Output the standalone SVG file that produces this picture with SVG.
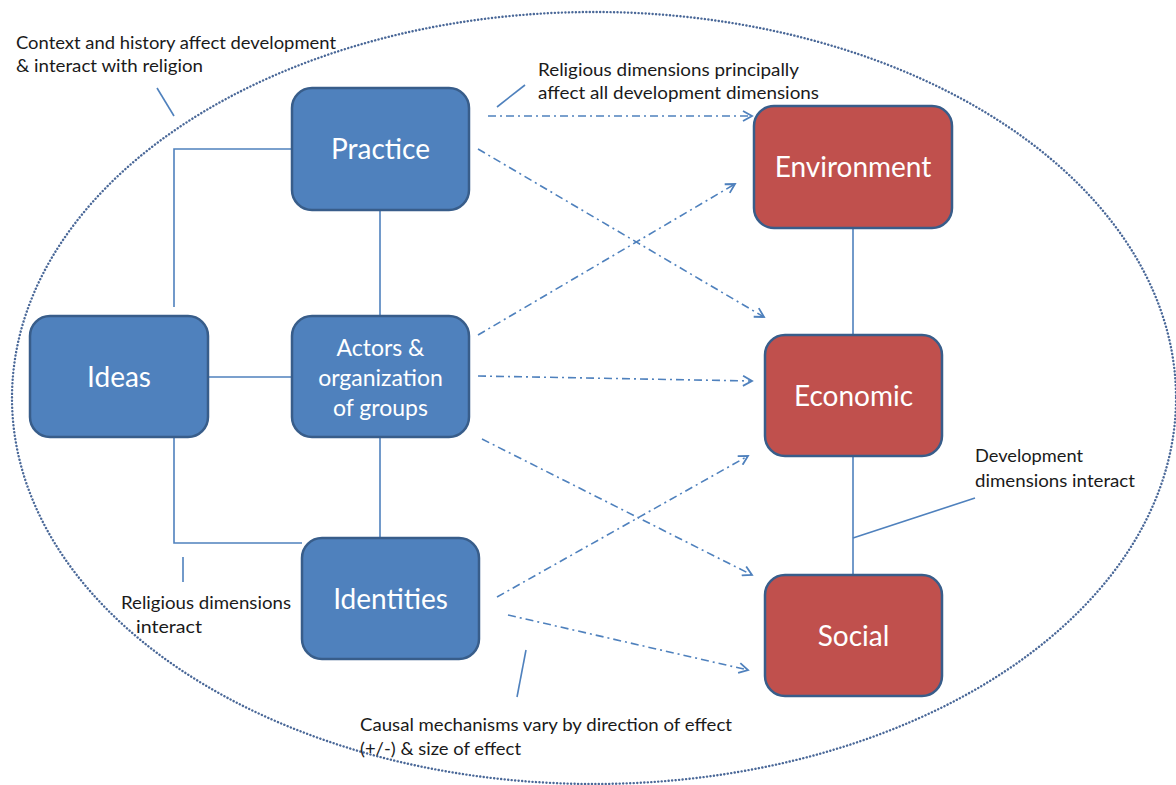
<svg xmlns="http://www.w3.org/2000/svg" width="1176" height="785" viewBox="0 0 1176 785">
<defs>
<style>
.bg{fill:#ffffff}
.ell{fill:none;stroke:#4a6898;stroke-width:2.4;stroke-dasharray:0.1 3.4;stroke-linecap:round}
.blue{fill:#4f81bd;stroke:#385d8a;stroke-width:2.5}
.red{fill:#c0504d;stroke:#385d8a;stroke-width:2.5}
.ntxt{font-family:Lato,"Open Sans","Liberation Sans",sans-serif;fill:#ffffff;text-anchor:middle}
.big{font-size:28px}
.mid{font-size:23px}
.lab{font-family:Lato,"Open Sans","Liberation Sans",sans-serif;font-size:18px;fill:#1a1a1a}
.ln{fill:none;stroke:#4f81bd;stroke-width:1.6}
.arr{fill:none;stroke:#4f81bd;stroke-width:1.6;stroke-dasharray:8 4 2 4;marker-end:url(#ah)}
</style>
<marker id="ah" viewBox="0 0 12 12" refX="10" refY="6" markerWidth="12" markerHeight="12" markerUnits="userSpaceOnUse" orient="auto">
<path d="M1,1 L10,6 L1,11" fill="none" stroke="#4f81bd" stroke-width="1.8"/>
</marker>
</defs>
<rect class="bg" x="0" y="0" width="1176" height="785"/>
<ellipse class="ell" cx="594" cy="398" rx="582" ry="386"/>

<g id="connectors">
<path class="ln" d="M380,210 L380,316"/>
<path class="ln" d="M380,437 L380,538"/>
<path class="ln" d="M208,377 L292,377"/>
<path class="ln" d="M174,307 L174,149 L292,149"/>
<path class="ln" d="M174,437 L174,543 L302,543"/>
<path class="ln" d="M853,228 L853,335"/>
<path class="ln" d="M853,456 L853,575"/>
<path class="ln" d="M853,538 L975,498"/>
<path class="ln" d="M157,88 L174,116"/>
<path class="ln" d="M497,107 L525,85"/>
<path class="ln" d="M183,557 L183,582"/>
<path class="ln" d="M526,650 L517,697"/>
<path class="arr" d="M488,116 L752,116"/>
<path class="arr" d="M478,149 L764,317"/>
<path class="arr" d="M478,335 L735,184"/>
<path class="arr" d="M478,376 L752,381"/>
<path class="arr" d="M482,439 L752,575"/>
<path class="arr" d="M497,597 L748,456"/>
<path class="arr" d="M508,615 L748,670"/>
</g>

<g id="practice">
<rect class="blue" x="292" y="88" width="177" height="122" rx="20"/>
<text class="ntxt big" x="380.5" y="159">Practice</text>
</g>
<g id="ideas">
<rect class="blue" x="30" y="316" width="178" height="121" rx="20"/>
<text class="ntxt big" x="119" y="387">Ideas</text>
</g>
<g id="actors">
<rect class="blue" x="292" y="316" width="177" height="121" rx="20"/>
<text class="ntxt mid" x="380.5" y="356">Actors &amp;</text>
<text class="ntxt mid" x="380.5" y="386">organization</text>
<text class="ntxt mid" x="380.5" y="416">of groups</text>
</g>
<g id="identities">
<rect class="blue" x="302" y="538" width="177" height="121" rx="20"/>
<text class="ntxt big" x="390.5" y="609">Identities</text>
</g>
<g id="environment">
<rect class="red" x="754" y="106" width="198" height="122" rx="20"/>
<text class="ntxt big" x="853" y="177">Environment</text>
</g>
<g id="economic">
<rect class="red" x="765" y="335" width="177" height="121" rx="20"/>
<text class="ntxt big" x="853.5" y="406">Economic</text>
</g>
<g id="social">
<rect class="red" x="765" y="575" width="177" height="121" rx="20"/>
<text class="ntxt big" x="853.5" y="646">Social</text>
</g>

<g id="labels">
<text class="lab" x="16" y="49" textLength="320" lengthAdjust="spacingAndGlyphs">Context and history affect development</text>
<text class="lab" x="16" y="72" textLength="187" lengthAdjust="spacingAndGlyphs">&amp; interact with religion</text>
<text class="lab" x="538" y="76" textLength="261" lengthAdjust="spacingAndGlyphs">Religious dimensions principally</text>
<text class="lab" x="538" y="99" textLength="281" lengthAdjust="spacingAndGlyphs">affect all development  dimensions</text>
<text class="lab" x="975" y="462" textLength="108" lengthAdjust="spacingAndGlyphs">Development</text>
<text class="lab" x="975" y="487" textLength="160" lengthAdjust="spacingAndGlyphs">dimensions interact</text>
<text class="lab" x="121" y="609" textLength="170" lengthAdjust="spacingAndGlyphs">Religious dimensions</text>
<text class="lab" x="136" y="633" textLength="66" lengthAdjust="spacingAndGlyphs">interact</text>
<text class="lab" x="360" y="731" textLength="372" lengthAdjust="spacingAndGlyphs">Causal mechanisms vary by direction of effect</text>
<text class="lab" x="360" y="755" textLength="161" lengthAdjust="spacingAndGlyphs">(+/-) &amp; size of effect</text>
</g>
</svg>
